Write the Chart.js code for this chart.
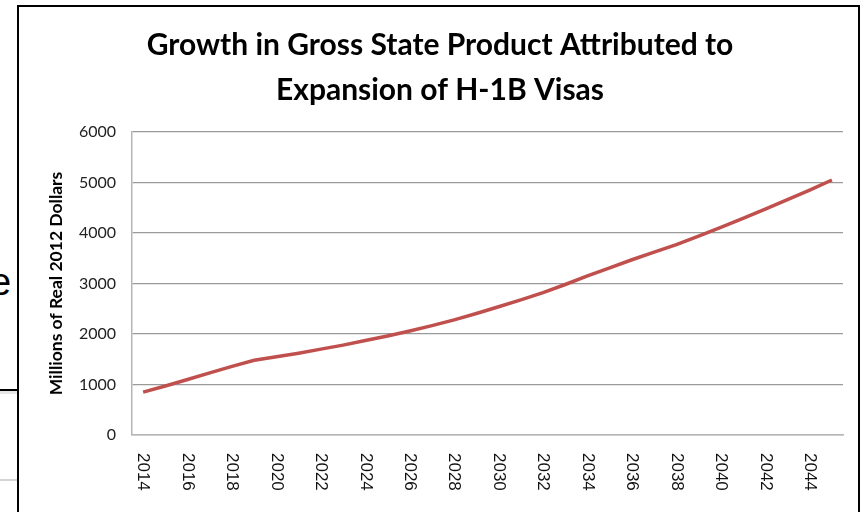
<!DOCTYPE html>
<html lang="en">
<head>
  <meta charset="UTF-8"/>
  <title>Growth in Gross State Product Attributed to Expansion of H-1B Visas</title>
  <script src="https://cdn.jsdelivr.net/npm/chart.js"></script>
  <style>
    html, body { margin: 0; padding: 0; background: #fff; }
    body { width: 864px; height: 512px; position: relative; overflow: hidden; }
    #frame {
      position: absolute; left: 17px; top: 5px; width: 839px; height: 520px;
      border: 2px solid #000; background: #fff;
    }
    #chartBox { position: absolute; left: 0; top: 0; width: 838px; height: 505px; }
    .slideText {
      position: absolute; left: -10px; top: 263px;
      font: 38px "Liberation Sans", Arial, sans-serif; line-height: 38px; color: #000;
    }
    .rule { position: absolute; left: 0; width: 17px; }
  </style>
</head>
<body>
  <!-- bits of the slide behind the chart -->
  <div class="slideText">e</div>
  <div class="rule" style="top:389px;height:2px;background:#000"></div>
  <div class="rule" style="top:391px;height:3px;background:#e6e6e6"></div>
  <div class="rule" style="top:479px;height:2px;background:#d4d4d4"></div>

  <div id="frame">
    <div id="chartBox"><canvas id="gspChart"></canvas></div>
  </div>

  <script>
    const years = ['2014','2015','2016','2017','2018','2019','2020','2021','2022','2023','2024',
      '2025','2026','2027','2028','2029','2030','2031','2032','2033','2034','2035','2036','2037',
      '2038','2039','2040','2041','2042','2043','2044','2045']
    const gsp = [850, 970, 1100, 1230, 1360, 1480, 1550, 1620, 1700, 1780, 1870,
      1960, 2060, 2165, 2280, 2405, 2540, 2675, 2820, 2980, 3150, 3310, 3470, 3620,
      3770, 3940, 4110, 4290, 4475, 4660, 4850, 5050]
    const titleLines = ['Growth in Gross State Product Attributed to', 'Expansion of H-1B Visas']
    const yTitle = 'Millions of Real 2012 Dollars'
    const yMin = 0, yMax = 6000, yStep = 1000

    // Excel writes the year labels top-to-bottom, Chart.js rotates the other way,
    // so the labels are drawn here at the scale's own tick positions
    const yearLabels = {
      id: 'yearLabels',
      afterDraw(chart) {
        const x = chart.scales.x
        const ctx = chart.ctx
        ctx.save()
        ctx.font = '17px "Liberation Sans", Arial, sans-serif'
        ctx.fillStyle = '#111'
        ctx.textAlign = 'left'
        ctx.textBaseline = 'middle'
        years.forEach((y, i) => {
          if (i % 2) return
          ctx.save()
          ctx.translate(x.getPixelForValue(i), x.top + 18)
          ctx.rotate(Math.PI / 2)
          ctx.fillText(y, 0, 0)
          ctx.restore()
        })
        ctx.restore()
      }
    }

    new Chart(document.getElementById('gspChart'), {
      type: 'line',
      data: {
        labels: years,
        datasets: [{
          data: gsp,
          borderColor: '#c0504d',
          borderWidth: 3.5,
          pointRadius: 0,
          tension: 0,
          fill: false
        }]
      },
      plugins: [yearLabels],
      options: {
        responsive: true,
        maintainAspectRatio: false,
        animation: false,
        layout: { padding: { left: 18, right: 14, top: 0, bottom: 0 } },
        plugins: {
          legend: { display: false },
          tooltip: { enabled: false },
          title: {
            display: true,
            text: titleLines,
            color: '#000',
            font: { family: 'Lato', size: 30, weight: 'bold', lineHeight: 1.5 },
            padding: { top: 16, bottom: 19 }
          }
        },
        scales: {
          x: {
            offset: true,
            grid: { display: false, drawTicks: false },
            border: { color: '#b5b5b5', width: 1.5 },
            ticks: { display: false },
            afterFit(s) { s.height = 77 }
          },
          y: {
            min: yMin,
            max: yMax,
            ticks: {
              stepSize: yStep,
              padding: 16,
              color: '#222',
              font: { family: 'Lato', size: 16 },
              callback: v => String(v)
            },
            grid: { color: '#9a9a9a', lineWidth: 1.3, drawTicks: false },
            border: { color: '#b5b5b5', width: 1.5 },
            title: {
              display: true,
              text: yTitle,
              color: '#000',
              font: { family: 'Lato', size: 17.5, weight: 'bold' },
              padding: { top: 9, bottom: 0 }
            },
            afterFit(s) { s.width = 95 }
          }
        }
      }
    })
  </script>
</body>
</html>
